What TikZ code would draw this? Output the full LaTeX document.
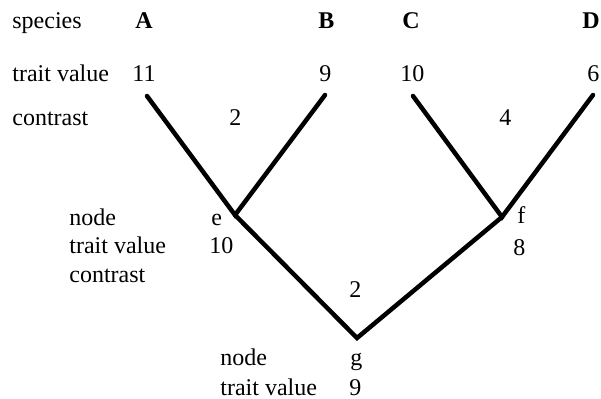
\documentclass[tikz,border=0pt]{standalone}
\usepackage{fontspec}
\setmainfont{Liberation Serif}
\begin{document}
\begin{tikzpicture}[x=0.5pt,y=-0.5pt,
  lbl/.style={anchor=base west,inner sep=0pt,font=\fontsize{12}{14}\selectfont},
  sp/.style={anchor=base west,inner sep=0pt,font=\fontsize{12}{14}\selectfont\bfseries},
  branch/.style={line width=2.25pt,line cap=round,line join=miter}]
\useasboundingbox (0,0) rectangle (601,398);
% row labels
\node[lbl] (lspecies) at (12,28) {species};
\node[lbl] (ltrait) at (12,81) {trait value};
\node[lbl] (lcontrast) at (12,125) {contrast};
% species
\node[sp] (sA) at (135,28) {A};
\node[sp] (sB) at (318,28) {B};
\node[sp] (sC) at (402,28) {C};
\node[sp] (sD) at (582,28) {D};
% trait values
\node[lbl] (tA) at (132,81) {11};
\node[lbl] (tB) at (319,81) {9};
\node[lbl] (tC) at (400,81) {10};
\node[lbl] (tD) at (587,81) {6};
% contrasts
\node[lbl] (cAB) at (229,125) {2};
\node[lbl] (cCD) at (499,125) {4};
% node e labels
\node[lbl] (lnodee) at (69,225) {node};
\node[lbl] (ltraite) at (69,253) {trait value};
\node[lbl] (lconte) at (69,282) {contrast};
\node[lbl] (ne) at (211,225) {e};
\node[lbl] (te) at (209,253) {10};
% node f labels
\node[lbl] (nf) at (517,223) {f};
\node[lbl] (tf) at (513,255) {8};
% contrast ef
\node[lbl] (cef) at (349,297) {2};
% node g labels
\node[lbl] (lnodeg) at (220,365) {node};
\node[lbl] (ltraitg) at (220,395) {trait value};
\node[lbl] (ng) at (350,365) {g};
\node[lbl] (tg) at (349,395) {9};
% tree
\coordinate (A) at (147,96);
\coordinate (B) at (325,95);
\coordinate (C) at (413,96);
\coordinate (D) at (593,95);
\coordinate (e) at (235,215);
\coordinate (f) at (502,217);
\coordinate (g) at (357,338);
\draw[branch] (A) -- (e) -- (B);
\draw[branch] (C) -- (f) -- (D);
\draw[branch] (e) -- (g) -- (f);
\end{tikzpicture}
\end{document}
